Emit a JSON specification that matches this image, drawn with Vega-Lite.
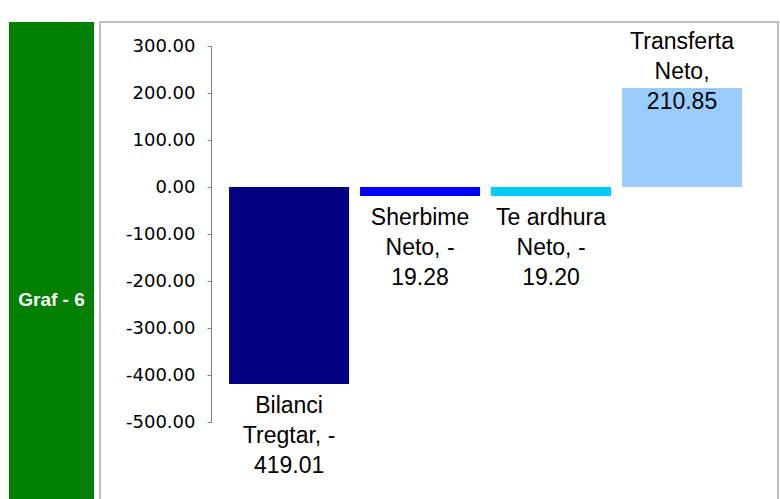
{
  "$schema": "https://vega.github.io/schema/vega-lite/v6.json",
  "background": "white",
  "padding": {"left": 9, "top": 10, "right": 0, "bottom": 0},
  "spacing": 5,
  "config": {
    "view": {"stroke": null},
    "locale": {"number": {"decimal": ".", "thousands": ",", "grouping": [3], "currency": ["", ""], "minus": "-"}}
  },
  "datasets": {
    "flows": [
      {"category": "Bilanci Tregtar", "value": -419.01, "label": ["Bilanci", "Tregtar, -", "419.01"]},
      {"category": "Sherbime Neto", "value": -19.28, "label": ["Sherbime", "Neto, -", "19.28"]},
      {"category": "Te ardhura Neto", "value": -19.20, "label": ["Te ardhura", "Neto, -", "19.20"]},
      {"category": "Transferta Neto", "value": 210.85, "label": ["Transferta", "Neto,", "210.85"]}
    ],
    "tag": [{"tag": "Graf - 6"}]
  },
  "hconcat": [
    {
      "width": 85,
      "height": 574,
      "view": {"fill": "#008000", "stroke": null},
      "data": {"name": "tag"},
      "mark": {"type": "text", "color": "white", "fontWeight": "bold", "font": "Liberation Sans", "fontSize": 19, "dy": -9},
      "encoding": {"text": {"field": "tag", "type": "nominal"}}
    },
    {
      "width": 678,
      "height": 563,
      "title": {"text": " ", "fontSize": 1, "offset": 10},
      "view": {"fill": "white", "stroke": "#c0c0c0", "strokeWidth": 2},
      "data": {"name": "flows"},
      "encoding": {
        "x": {
          "field": "category",
          "type": "nominal",
          "sort": null,
          "axis": null,
          "scale": {"paddingInner": 0.084, "paddingOuter": 0.63, "align": 0.782}
        }
      },
      "layer": [
        {
          "mark": {"type": "bar"},
          "encoding": {
            "y": {
              "field": "value",
              "type": "quantitative",
              "scale": {"domain": [-500, 300], "range": [400, 24], "nice": false, "zero": false},
              "axis": {
                "title": null,
                "grid": false,
                "offset": -111,
                "values": [-500, -400, -300, -200, -100, 0, 100, 200, 300],
                "format": ".2f",
                "domainColor": "#808080",
                "tickColor": "#808080",
                "tickSize": 4,
                "labelPadding": 12,
                "labelFont": "DejaVu Sans",
                "labelFontSize": 18,
                "labelColor": "black"
              }
            },
            "color": {
              "field": "category",
              "type": "nominal",
              "legend": null,
              "scale": {
                "domain": ["Bilanci Tregtar", "Sherbime Neto", "Te ardhura Neto", "Transferta Neto"],
                "range": ["#000080", "#0000FF", "#00CCFF", "#99CCFF"]
              }
            }
          }
        },
        {
          "transform": [{"filter": "datum.value < 0"}],
          "mark": {"type": "text", "baseline": "top", "align": "center", "dy": 11, "font": "Liberation Sans", "fontSize": 23, "lineHeight": 30, "color": "black"},
          "encoding": {
            "y": {"field": "value", "type": "quantitative"},
            "text": {"field": "label"}
          }
        },
        {
          "transform": [{"filter": "datum.value >= 0"}],
          "mark": {"type": "text", "baseline": "alphabetic", "align": "center", "dy": -39, "font": "Liberation Sans", "fontSize": 23, "lineHeight": 30, "color": "black"},
          "encoding": {
            "y": {"field": "value", "type": "quantitative"},
            "text": {"field": "label"}
          }
        }
      ]
    }
  ]
}
